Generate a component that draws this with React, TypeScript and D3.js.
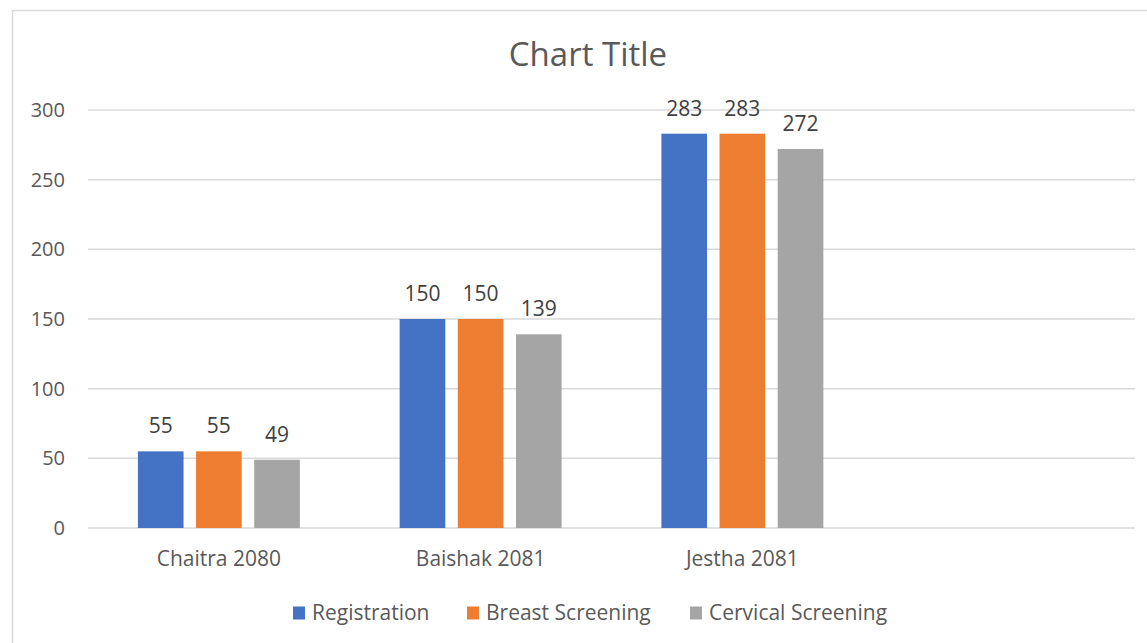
import React, { useEffect, useRef } from "react";
import * as d3 from "d3";

const categories = ["Chaitra 2080", "Baishak 2081", "Jestha 2081", ""];
const seriesNames = ["Registration", "Breast Screening", "Cervical Screening"];
const registration = [55, 150, 283];
const breastScreening = [55, 150, 283];
const cervicalScreening = [49, 139, 272];
const yTicks = [0, 50, 100, 150, 200, 250, 300];

const colors = ["#4472c4", "#ed7d31", "#a5a5a5"];
const FONT = "'Open Sans', 'Liberation Sans', sans-serif";
const TEXT = "#595959";

const App = () => {
  const svgRef = useRef<SVGSVGElement | null>(null);

  useEffect(() => {
    const width = 1147;
    const height = 643;
    const svg = d3.select(svgRef.current);
    svg.selectAll("*").remove();
    svg.attr("width", width).attr("height", height);

    const values = [registration, breastScreening, cervicalScreening];

    // chart area frame (bottom/right edges fall off the picture)
    svg
      .append("rect")
      .attr("x", 12.5)
      .attr("y", 10.5)
      .attr("width", 1160)
      .attr("height", 660)
      .attr("fill", "white")
      .attr("stroke", "#d9d9d9")
      .attr("stroke-width", 1.5);

    const x = d3.scaleBand().domain(categories).range([88, 1135]).padding(0);
    const x1 = d3
      .scaleBand()
      .domain(seriesNames)
      .range([0, x.bandwidth()])
      .paddingInner(0.215)
      .paddingOuter(0.858);

    const y = d3.scaleLinear().domain([0, 300]).range([528, 110]);

    // gridlines
    svg
      .append("g")
      .selectAll("line")
      .data(yTicks)
      .join("line")
      .attr("x1", 88)
      .attr("x2", 1135)
      .attr("y1", (d) => y(d))
      .attr("y2", (d) => y(d))
      .attr("stroke", "#d9d9d9")
      .attr("stroke-width", 1.5);

    // y tick labels
    svg
      .append("g")
      .selectAll("text")
      .data(yTicks)
      .join("text")
      .attr("x", 65)
      .attr("y", (d) => y(d))
      .attr("dy", "0.35em")
      .attr("text-anchor", "end")
      .attr("fill", TEXT)
      .attr("font-family", FONT)
      .attr("font-size", 20)
      .text((d) => d);

    // bars + value labels
    seriesNames.forEach((name, si) => {
      const g = svg.append("g").attr("fill", colors[si]);
      g.selectAll("rect")
        .data(values[si])
        .join("rect")
        .attr("x", (_, i) => x(categories[i])! + x1(name)!)
        .attr("y", (d) => y(d))
        .attr("width", x1.bandwidth())
        .attr("height", (d) => y(0) - y(d));

      svg
        .append("g")
        .selectAll("text")
        .data(values[si])
        .join("text")
        .attr("x", (_, i) => x(categories[i])! + x1(name)! + x1.bandwidth() / 2)
        .attr("y", (d) => y(d) - 18)
        .attr("text-anchor", "middle")
        .attr("fill", "#404040")
        .attr("font-family", FONT)
        .attr("font-size", 21)
        .text((d) => d);
    });

    // category labels
    svg
      .append("g")
      .selectAll("text")
      .data(categories)
      .join("text")
      .attr("x", (d) => x(d)! + x.bandwidth() / 2)
      .attr("y", 566)
      .attr("text-anchor", "middle")
      .attr("fill", TEXT)
      .attr("font-family", FONT)
      .attr("font-size", 21)
      .text((d) => d);

    // title
    svg
      .append("text")
      .attr("x", 588)
      .attr("y", 66)
      .attr("text-anchor", "middle")
      .attr("fill", TEXT)
      .attr("font-family", FONT)
      .attr("font-size", 33)
      .text("Chart Title");

    // legend
    const legendX = [293, 467, 690];
    seriesNames.forEach((name, i) => {
      const g = svg
        .append("g")
        .attr("transform", `translate(${legendX[i]},613)`);
      g.append("rect")
        .attr("x", 0)
        .attr("y", -6.5)
        .attr("width", 12)
        .attr("height", 13)
        .attr("fill", colors[i]);
      g.append("text")
        .attr("x", 19)
        .attr("y", 0)
        .attr("dy", "0.35em")
        .attr("fill", TEXT)
        .attr("font-family", FONT)
        .attr("font-size", 21)
        .text(name);
    });
  }, []);

  return (
    <div style={{ position: "absolute", left: 0, top: 0 }}>
      <svg ref={svgRef} style={{ display: "block" }} />
    </div>
  );
};

export default App;
